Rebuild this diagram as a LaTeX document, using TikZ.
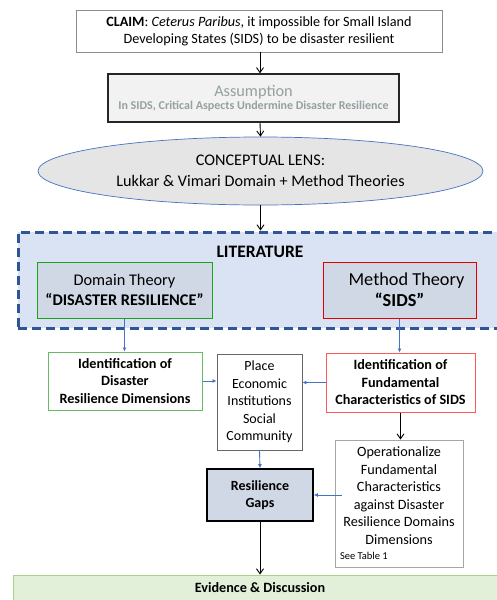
\documentclass[tikz,border=0pt]{standalone}
\usepackage{fontspec}
\setmainfont{Carlito}
\usetikzlibrary{arrows.meta,shapes.geometric}
\definecolor{litfill}{HTML}{DAE3F3}
\definecolor{litdraw}{HTML}{2F5597}
\definecolor{boxfill}{HTML}{D0D7E5}
\definecolor{arrblue}{HTML}{4472C4}
\definecolor{evfill}{HTML}{E2F0D9}
\definecolor{evdraw}{HTML}{A9D18E}
\definecolor{assumtxt}{HTML}{95A0A0}
\begin{document}
\begin{tikzpicture}[x=1pt,y=-1pt,
  box/.style={draw, rectangle, inner sep=2pt, align=center},
  blk/.style={-{Straight Barb[length=5pt,width=7pt]}, line width=0.9pt},
  blu/.style={-{Latex[length=4pt,width=4pt]}, arrblue, line width=0.9pt}]
\useasboundingbox (0,0) rectangle (497,600);
% claim
\node[box, draw=black!45, line width=0.8pt, minimum width=366pt, minimum height=42pt, font=\fontsize{14.2}{17}\selectfont] (claim) at (259,31)
  {\textbf{CLAIM}: \textit{Ceterus Paribus}, it impossible for Small Island\\Developing States (SIDS) to be disaster resilient};
% assumption
\node[box, draw=black!85, fill=black!5, line width=1.3pt, minimum width=291pt, minimum height=48pt] (assump) at (253.5,98)
  {\color{assumtxt}\fontsize{16.3}{18}\selectfont Assumption\\[1pt]\color{assumtxt}\fontsize{12}{13}\selectfont\bfseries In SIDS, Critical Aspects Undermine Disaster Resilience};
% lens
\node[ellipse, draw=arrblue, fill=black!10, line width=0.7pt, minimum width=445pt, minimum height=68pt, align=center, inner sep=0pt, font=\fontsize{16.2}{20.5}\selectfont] (lens) at (260.5,171)
  {CONCEPTUAL LENS:\\Lukkar \& Vimari Domain + Method Theories};
% literature
\node[rectangle, draw=litdraw, fill=litfill, line width=3pt, dash pattern=on 9pt off 5pt, minimum width=497pt, minimum height=96pt] (lit) at (266.5,280) {};
\node[font=\fontsize{17.5}{20}\selectfont\bfseries] (littitle) at (260,252) {LITERATURE};
\node[box, draw=green!60!black!90, fill=boxfill, line width=1pt, minimum width=175pt, minimum height=56pt, font=\fontsize{16.3}{20}\selectfont] (domain) at (124.5,290)
  {Domain Theory\\\textbf{“DISASTER RESILIENCE”}};
\node[box, draw=red!90!black, fill=boxfill, line width=1pt, minimum width=153pt, minimum height=56pt, font=\fontsize{18.3}{21}\selectfont] (method) at (399.5,290)
  {\hspace*{14pt}Method Theory\\\textbf{“SIDS”}};
% identification boxes
\node[box, draw=green!55!black!60, line width=1pt, minimum width=154pt, minimum height=58pt, font=\fontsize{14.2}{17.5}\selectfont\bfseries] (iddr) at (125,381)
  {Identification of\\Disaster\\Resilience Dimensions};
\node[box, draw=black!60, line width=0.9pt, minimum width=85pt, minimum height=96pt, font=\fontsize{14}{17.5}\selectfont] (mid) at (259.5,402)
  {Place\\Economic\\Institutions\\Social\\Community};
\node[box, draw=red!65, line width=1pt, minimum width=149pt, minimum height=59pt, font=\fontsize{14.2}{17.5}\selectfont\bfseries] (idf) at (400.5,382.5)
  {Identification of\\Fundamental\\Characteristics of SIDS};
\node[box, draw=black!35, line width=0.9pt, minimum width=128pt, minimum height=127pt, font=\fontsize{14.2}{17.5}\selectfont] (oper) at (399,503.5)
  {Operationalize\\Fundamental\\Characteristics\\against Disaster\\Resilience Domains\\Dimensions\\[-2pt]\makebox[118pt][l]{\fontsize{10.5}{11}\selectfont See Table 1}};
\node[box, draw=black, fill=boxfill, line width=1.6pt, minimum width=106pt, minimum height=52pt, font=\fontsize{14}{17.5}\selectfont\bfseries] (gaps) at (260,495)
  {Resilience\\Gaps};
\node[rectangle, draw=evdraw, fill=evfill, line width=1pt, minimum width=497pt, minimum height=34pt] (evid) at (261.5,592) {};
\node[font=\fontsize{14.2}{16}\selectfont\bfseries] (evtext) at (260,588) {Evidence \& Discussion};
% connectors
\draw[blk] (claim.south -| 260,0) -- (assump.north -| 260,0);
\draw[blk] (assump.south -| 260,0) -- (lens.north);
\draw[blk] (lens.south) -- (lit.north -| lens.south);
\draw[blu] (domain.south) -- (iddr.north -| domain.south);
\draw[blu] (method.south) -- (idf.north -| method.south);
\draw[blu] (iddr.east) -- (iddr.east -| mid.west);
\draw[blu] (idf.west) -- (idf.west -| mid.east);
\draw[blk] (idf.south) -- (oper.north -| idf.south);
\draw[blu] (mid.south) -- (gaps.north);
\draw[blu] (oper.west |- gaps.east) ++(7,0) -- (gaps.east);
\draw[blk] (gaps.south) -- (evid.north -| gaps.south);
\end{tikzpicture}
\end{document}
